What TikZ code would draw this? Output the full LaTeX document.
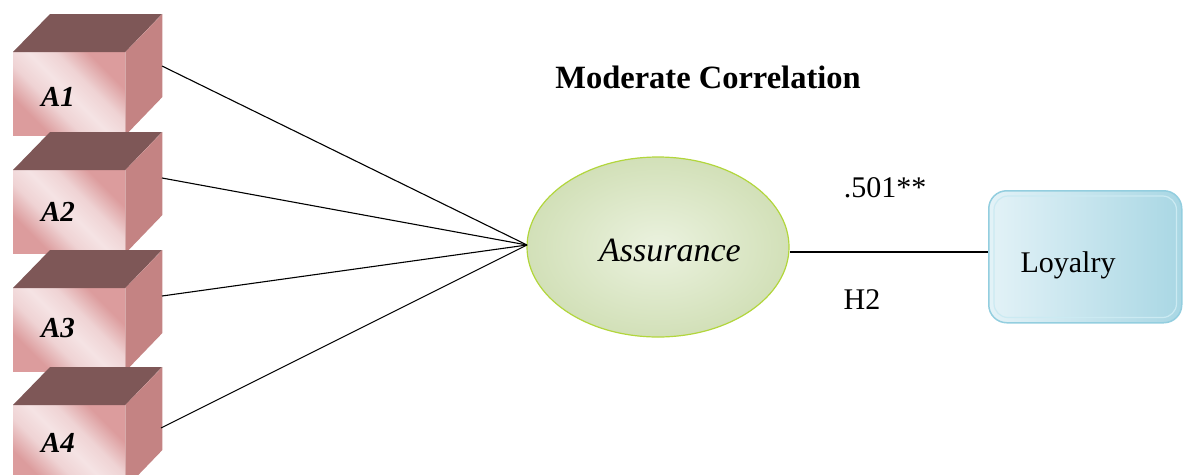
\documentclass[tikz,border=0pt]{standalone}
\usepackage{fontspec}
\setmainfont{Liberation Serif}
\usetikzlibrary{calc,shapes.geometric}
\definecolor{cubetop}{HTML}{7E5757}
\definecolor{cubeside}{HTML}{C48383}
\definecolor{pinkA}{HTML}{DC9C9D}
\definecolor{pinkL}{HTML}{EFD3D4}
\definecolor{pinkLL}{HTML}{F5E3E4}
\definecolor{ellin}{HTML}{EBF2DF}
\definecolor{ellout}{HTML}{D2E0B8}
\definecolor{elldraw}{HTML}{B2D63C}
\definecolor{boxA}{HTML}{E3F2F7}
\definecolor{boxB}{HTML}{A9D7E4}
\definecolor{boxdraw}{HTML}{93CEDF}
\definecolor{boxinner}{HTML}{CBEAF2}
\pgfdeclarehorizontalshading{cubefront}{100bp}{color(0bp)=(pinkA); color(28bp)=(pinkA); color(40bp)=(pinkL); color(50bp)=(pinkLL); color(60bp)=(pinkL); color(72bp)=(pinkA); color(100bp)=(pinkA)}
\tikzset{
  front/.style={shading=cubefront, shading angle=45, minimum width=112pt, minimum height=83pt, anchor=north west, inner sep=0pt, draw=none},
  cubelab/.style={font=\fontsize{29}{32}\selectfont\bfseries\itshape, text=black},
  link/.style={draw=black, line width=1.1pt},
  plain/.style={font=\fontsize{30}{34}\selectfont, text=black},
}
\newcommand\drawcube[4]{% name, y of front top, label, label y
  \node[front] (#1) at (13,#2) {};
  \fill[cubetop] (#1.north west) -- ++(37,-38) -- ++(112,0) -- (#1.north east) -- cycle;
  \fill[cubeside] (#1.north east) -- ++(37,-38) -- ++(0,83) -- (#1.south east) -- cycle;
  \node[cubelab] (#1l) at (58,#4) {#3};
}
\begin{document}
\begin{tikzpicture}[x=1pt,y=-1pt]
\useasboundingbox (0,0) rectangle (1183,474);
\drawcube{a1}{52}{A1}{97}
\drawcube{a2}{170}{A2}{212}
\drawcube{a3}{288}{A3}{328}
\drawcube{a4}{405}{A4}{443}
\coordinate (c1) at (162,66);
\coordinate (c2) at (162,178);
\coordinate (c3) at (162,296);
\coordinate (c4) at (161,428);
\node[ellipse, draw=elldraw, line width=1.2pt, inner color=ellin, outer color=ellout, minimum width=262pt, minimum height=180pt] (as) at (658,247) {};
\node[font=\fontsize{34}{37}\selectfont\itshape, text=black] (ast) at (670,250) {Assurance};
\coordinate (conv) at (527,245);
\foreach \c in {c1,c2,c3,c4} \draw[link] (\c) -- (conv);
\node[rounded corners=18pt, draw=boxdraw, line width=1.5pt, left color=boxA, right color=boxB, minimum width=193pt, minimum height=132pt, anchor=north west] (loy) at (988,190) {};
\draw[boxinner, line width=1.2pt, rounded corners=14pt] ($(loy.north west)+(6,6)$) rectangle ($(loy.south east)+(-6,-6)$);
\node[plain] (loyt) at (1068,265) {Loyalry};
\coordinate (yl) at (0,252);
\draw[link] (as.east |- yl) -- (loy.west |- yl);
\node[font=\fontsize{32.5}{36}\selectfont\bfseries, text=black] (title) at (708,77) {Moderate Correlation};
\node[plain] (coef) at (885,188) {.501**};
\node[plain] (h2) at (862,300) {H2};
\end{tikzpicture}
\end{document}
